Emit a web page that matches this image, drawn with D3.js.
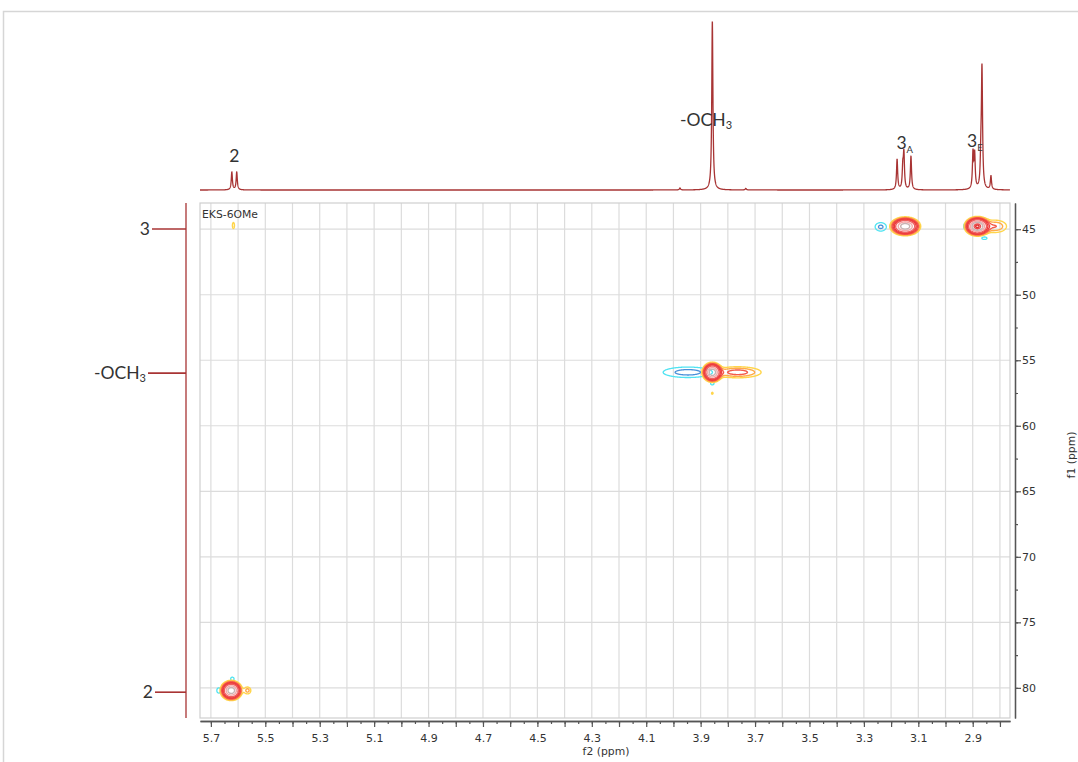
<!DOCTYPE html>
<html><head><meta charset="utf-8">
<script src="https://cdn.jsdelivr.net/npm/d3@7"></script>
<style>body{margin:0;background:#fff;} svg{display:block}</style>
</head><body><svg id="c" width="1078" height="762"></svg>
<script>
// ---------------- DATA ----------------
// f2 (1H) axis labels / f1 (13C) axis labels
const f2LabelTicks = [5.7,5.5,5.3,5.1,4.9,4.7,4.5,4.3,4.1,3.9,3.7,3.5,3.3,3.1,2.9];
const f1LabelTicks = [45,50,55,60,65,70,75,80];
// 1D proton projection (top): peak positions (ppm) and intensities (relative)
const hPeakPpm = [5.623, 5.605, 3.976, 3.857, 3.734, 3.178, 3.157, 3.153, 3.127, 2.899, 2.893, 2.870, 2.866, 2.833];
const hPeakInt = [10.5, 10.5, 1.1, 100, 0.9, 18.0, 12.0, 20.5, 19.8, 21.0, 20.0, 16.0, 70.0, 8.0];
// HSQC cross peaks (positive = CH/CH3 phase, negative = artefacts)
const crossF2   = [5.626, 5.672, 5.622, 5.566, 3.858, 3.765, 3.948, 3.858, 3.858, 3.149, 3.239, 2.884, 2.818, 2.926, 2.858, 5.618];
const crossF1   = [80.18, 80.18, 79.30, 80.18, 55.90, 55.90, 55.90, 56.74, 57.50, 44.76, 44.80, 44.76, 44.76, 44.76, 45.67, 44.70];
const crossAmp  = [1.0, -0.07, -0.06, 0.07, 1.0, 0.11, -0.09, -0.06, 0.045, 1.0, -0.08, 1.35, 0.09, -0.07, -0.06, 0.055];
const crossWF2  = [0.016, 0.006, 0.006, 0.010, 0.0145, 0.057, 0.066, 0.006, 0.004, 0.022, 0.016, 0.018, 0.030, 0.007, 0.009, 0.004];
const crossWF1  = [0.30, 0.17, 0.13, 0.22, 0.30, 0.28, 0.29, 0.12, 0.10, 0.28, 0.25, 0.28, 0.34, 0.22, 0.09, 0.24];
// annotations
const topLabelText = ["2", "-OCH", "3", "3"];
const topLabelSub  = ["", "3", "A", "E"];
const topLabelPpm  = [5.614, 3.880, 3.150, 2.892];
const leftLabelText = ["3", "-OCH", "2"];
const leftLabelSub  = ["", "3", ""];
const leftLabelF1   = [44.98, 55.98, 80.33];
const sampleName = "EKS-6OMe";

// ---------------- LAYOUT ----------------
const svg = d3.select("#c");
const L = 200, R = 1010, T = 203, B = 718;
const x = d3.scaleLinear().domain([5.74, 2.763]).range([L, R]);
const y = d3.scaleLinear().domain([43.0, 82.3]).range([T, B]);
const yI = d3.scaleLinear().domain([0, 100]).range([190, 21]);
const red = "#a83434";
const labelFont = "Lato, 'Open Sans', sans-serif";
const axisFont = "'DejaVu Sans', Verdana, sans-serif";

// outer frame
svg.append("rect").attr("x", 3.5).attr("y", 11.5).attr("width", 1100).attr("height", 800)
  .attr("fill", "none").attr("stroke", "#d6d6d6").attr("stroke-width", 1.5);

// grid
const vGrid = d3.range(0, 30).map(i => +(5.7 - i * 0.1).toFixed(2));
svg.append("g").selectAll("line").data(vGrid).join("line")
  .attr("x1", d => x(d)).attr("x2", d => x(d)).attr("y1", T).attr("y2", B)
  .attr("stroke", "#dcdcdc").attr("stroke-width", 1.2);
svg.append("g").selectAll("line").data(f1LabelTicks).join("line")
  .attr("x1", L).attr("x2", R).attr("y1", d => y(d)).attr("y2", d => y(d))
  .attr("stroke", "#dcdcdc").attr("stroke-width", 1.2);
svg.append("rect").attr("x", L).attr("y", T).attr("width", R - L).attr("height", B - T)
  .attr("fill", "none").attr("stroke", "#cfcfcf").attr("stroke-width", 1.2);

// ---------------- CONTOURS ----------------
const res = 2;
const gw = (R - L) * res, gh = (B - T) * res;
const posVals = new Float64Array(gw * gh);
const negVals = new Float64Array(gw * gh);
crossF2.forEach((c, k) => {
  const target = crossAmp[k] > 0 ? posVals : negVals;
  const a = Math.abs(crossAmp[k]);
  const cx = x(c), cy = y(crossF1[k]);
  const sx = Math.abs(x(c + crossWF2[k]) - cx), sy = Math.abs(y(crossF1[k] + crossWF1[k]) - cy);
  const i0 = Math.max(0, Math.floor((cx - 5 * sx - L) * res)), i1 = Math.min(gw - 1, Math.ceil((cx + 5 * sx - L) * res));
  const j0 = Math.max(0, Math.floor((cy - 5 * sy - T) * res)), j1 = Math.min(gh - 1, Math.ceil((cy + 5 * sy - T) * res));
  for (let j = j0; j <= j1; j++) {
    const py = T + j / res, dy = (py - cy) / sy;
    for (let i = i0; i <= i1; i++) {
      const px = L + i / res, dx = (px - cx) / sx;
      target[j * gw + i] += a * Math.exp(-0.5 * (dx * dx + dy * dy));
    }
  }
});
const posLevels = [0.035, 0.06, 0.09, 0.13, 0.19, 0.28, 0.5, 0.75, 1.1, 1.28];
const posColors = ["#ffd54a", "#ffaa48", "#f45a4a", "#ee4040", "#ec3a3a", "#f06060", "#f5a8a8", "#c9b3b3", "#ee5050", "#e03030"];
const negLevels = [0.035, 0.07];
const negColors = ["#4fe3f2", "#4a90d9"];
const cg = svg.append("g").attr("transform", `translate(${L},${T}) scale(${1 / res})`);
const path = d3.geoPath();
d3.contours().size([gw, gh]).thresholds(negLevels)(negVals).forEach((c, i) => {
  cg.append("path").attr("d", path(c)).attr("fill", "none").attr("stroke", negColors[i]).attr("stroke-width", 1.3 * res);
});
d3.contours().size([gw, gh]).thresholds(posLevels)(posVals).forEach((c, i) => {
  cg.append("path").attr("d", path(c)).attr("fill", "none").attr("stroke", posColors[i]).attr("stroke-width", 1.4 * res);
});

// ---------------- TOP 1D SPECTRUM ----------------
const hw = 0.0025;
const ppmPts = d3.range(5.74, 2.763, -0.0004);
const spec = ppmPts.map(p => {
  let s = 0;
  for (let k = 0; k < hPeakPpm.length; k++) { const d = (p - hPeakPpm[k]) / hw; s += hPeakInt[k] / (1 + d * d); }
  return [p, s];
});
svg.append("path").datum(spec)
  .attr("d", d3.line().x(d => x(d[0])).y(d => yI(d[1])))
  .attr("fill", "none").attr("stroke", red).attr("stroke-width", 1.3);

// top labels
const topY = [162, 126, 149, 147];
topLabelText.forEach((t, i) => {
  const tx = svg.append("text").attr("font-family", labelFont).attr("font-size", 17.5).attr("fill", "#333")
    .attr("y", topY[i]);
  tx.append("tspan").text(t);
  if (topLabelSub[i]) tx.append("tspan").attr("font-size", i === 1 ? 11 : 9.5).attr("dy", i === 1 ? 3 : 4).text(topLabelSub[i]);
  const w = tx.node().getComputedTextLength();
  tx.attr("x", x(topLabelPpm[i]) - w / 2);
});

// ---------------- LEFT 1D PROJECTION ----------------
svg.append("line").attr("x1", 186).attr("x2", 186).attr("y1", y.range()[0]).attr("y2", y.range()[1])
  .attr("stroke", red).attr("stroke-width", 1.3);
const leaderStart = [152, 148, 155];
leftLabelText.forEach((t, i) => {
  const yy = y(leftLabelF1[i]);
  svg.append("line").attr("x1", leaderStart[i]).attr("x2", 186).attr("y1", yy).attr("y2", yy)
    .attr("stroke", red).attr("stroke-width", 1.6);
  const tx = svg.append("text").attr("font-family", labelFont).attr("font-size", 17.5).attr("fill", "#333")
    .attr("y", yy + 6).attr("text-anchor", "end").attr("x", leaderStart[i] - 2);
  tx.append("tspan").text(t);
  if (leftLabelSub[i]) tx.append("tspan").attr("font-size", 11).attr("dy", 3).text(leftLabelSub[i]);
});

// sample name
svg.append("text").attr("x", L + 2).attr("y", T + 15).attr("font-family", axisFont).attr("font-size", 10.8)
  .attr("fill", "#333").text(sampleName);

// ---------------- AXES ----------------
const minorX = d3.range(0, 60).map(i => +(5.7 - i * 0.05).toFixed(2)).filter(v => v > 2.763);
const majorX = vGrid;
const axY = 721;
const gxMinor = svg.append("g").attr("transform", `translate(0,${axY})`)
  .call(d3.axisBottom(x).tickValues(minorX).tickSize(3).tickSizeOuter(0).tickFormat(""));
const gxMajor = svg.append("g").attr("transform", `translate(0,${axY})`)
  .call(d3.axisBottom(x).tickValues(majorX).tickSize(6).tickSizeOuter(0).tickPadding(7)
    .tickFormat(d => f2LabelTicks.some(v => Math.abs(v - d) < 1e-6) ? d3.format(".1f")(d) : ""));
[gxMinor, gxMajor].forEach(g => {
  g.select(".domain").attr("stroke", "#555").attr("stroke-width", 1.3);
  g.selectAll(".tick line").attr("stroke", "#555").attr("stroke-width", 1.2);
  g.selectAll("text").attr("font-family", axisFont).attr("font-size", 11).attr("fill", "#333");
});
svg.append("text").attr("x", 606).attr("y", 755).attr("text-anchor", "middle")
  .attr("font-family", axisFont).attr("font-size", 10.8).attr("fill", "#333").text("f2 (ppm)");

const axX = 1015;
const minorY = d3.range(0, 16).map(i => 45 + i * 2.5).filter(v => v <= 82.3);
const gyMinor = svg.append("g").attr("transform", `translate(${axX},0)`)
  .call(d3.axisRight(y).tickValues(minorY).tickSize(3).tickSizeOuter(0).tickFormat(""));
const gyMajor = svg.append("g").attr("transform", `translate(${axX},0)`)
  .call(d3.axisRight(y).tickValues(f1LabelTicks).tickSize(6).tickSizeOuter(0).tickPadding(1).tickFormat(d3.format("d")));
[gyMinor, gyMajor].forEach(g => {
  g.select(".domain").attr("stroke", "#555").attr("stroke-width", 1.3);
  g.selectAll(".tick line").attr("stroke", "#555").attr("stroke-width", 1.2);
  g.selectAll("text").attr("font-family", axisFont).attr("font-size", 11).attr("fill", "#333");
});
svg.append("text").attr("transform", "translate(1075,455) rotate(-90)").attr("text-anchor", "middle")
  .attr("font-family", axisFont).attr("font-size", 10.8).attr("fill", "#333").text("f1 (ppm)");
</script></body></html>
